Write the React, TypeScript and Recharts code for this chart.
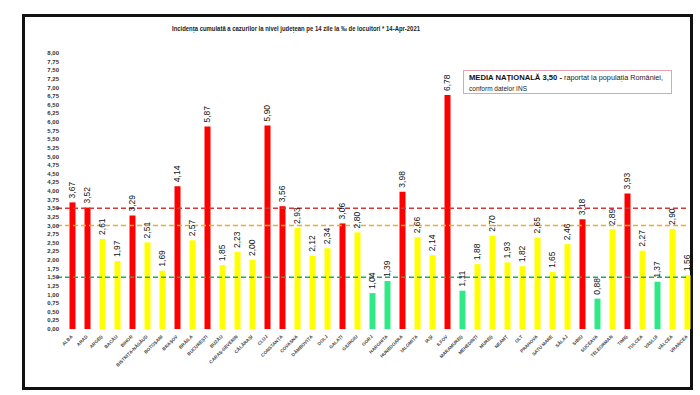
import React from 'react';
import { BarChart, Bar, XAxis, YAxis, Cell, LabelList, ReferenceLine } from 'recharts';

// judete, in ordinea din grafic
const counties = [
  'ALBA', 'ARAD', 'ARGEȘ', 'BACĂU', 'BIHOR', 'BISTRIȚA-NĂSĂUD', 'BOTOȘANI', 'BRAȘOV', 'BRĂILA', 'BUCUREȘTI',
  'BUZĂU', 'CARAȘ-SEVERIN', 'CĂLĂRAȘI', 'CLUJ', 'CONSTANȚA', 'COVASNA', 'DÂMBOVIȚA', 'DOLJ', 'GALAȚI', 'GIURGIU',
  'GORJ', 'HARGHITA', 'HUNEDOARA', 'IALOMIȚA', 'IAȘI', 'ILFOV', 'MARAMUREȘ', 'MEHEDINȚI', 'MUREȘ', 'NEAMȚ',
  'OLT', 'PRAHOVA', 'SATU MARE', 'SĂLAJ', 'SIBIU', 'SUCEAVA', 'TELEORMAN', 'TIMIȘ', 'TULCEA', 'VASLUI',
  'VÂLCEA', 'VRANCEA',
];

// incidenta la 1000 locuitori
const incidence = [
  3.67, 3.52, 2.61, 1.97, 3.29, 2.51, 1.69, 4.14, 2.57, 5.87,
  1.85, 2.23, 2.0, 5.9, 3.56, 2.93, 2.12, 2.34, 3.06, 2.8,
  1.04, 1.39, 3.98, 2.66, 2.14, 6.78, 1.11, 1.88, 2.7, 1.93,
  1.82, 2.65, 1.65, 2.46, 3.18, 0.88, 2.89, 3.93, 2.27, 1.37,
  2.9, 1.56,
];

const yTicks = [
  0, 0.25, 0.5, 0.75, 1, 1.25, 1.5, 1.75, 2, 2.25, 2.5, 2.75, 3, 3.25, 3.5, 3.75,
  4, 4.25, 4.5, 4.75, 5, 5.25, 5.5, 5.75, 6, 6.25, 6.5, 6.75, 7, 7.25, 7.5, 7.75, 8,
];

// praguri (linii punctate)
const thresholds = [
  { value: 3.5, color: '#d93535' },
  { value: 3.0, color: '#f0ad1e' },
  { value: 1.5, color: '#27a85f' },
];

const RED = '#ff0000';
const YELLOW = '#ffff00';
const GREEN = '#2ee986';

const FONT = '"Liberation Sans", Arial, sans-serif';

const fmt = (v: number) => v.toFixed(2).replace('.', ',');
const barColor = (v: number) => (v > 3 ? RED : v < 1.5 ? GREEN : YELLOW);

const data = counties.map((c, i) => ({ county: c, value: incidence[i] }));

const YTick = (props: any) => {
  const { x, y, payload } = props;
  return (
    <text x={x + 2} y={y} dy={2} textAnchor="end" fontSize={6} fontWeight={600} fill="#333" fontFamily={FONT}>
      {fmt(payload.value)}
    </text>
  );
};

const XTick = (props: any) => {
  const { x, y, payload } = props;
  return (
    <text
      x={x + 1}
      y={y + 2}
      textAnchor="end"
      fontSize={4.6}
      fontWeight={700}
      fill="#444"
      fontFamily={FONT}
      transform={`rotate(-45, ${x + 1}, ${y + 2})`}
    >
      {payload.value}
    </text>
  );
};

const ValueLabel = (props: any) => {
  const { x, y, width, value } = props;
  const cx = x + width / 2;
  const cy = y - 4;
  return (
    <text
      x={cx}
      y={cy}
      textAnchor="start"
      dominantBaseline="middle"
      fontSize={8.5}
      fill="#111"
      fontFamily={FONT}
      transform={`rotate(-90, ${cx}, ${cy})`}
    >
      {fmt(value)}
    </text>
  );
};

const DashLine = (color: string) => (props: any) => (
  <line x1={props.x1} y1={props.y1} x2={props.x2 - 6} y2={props.y2} stroke={color} strokeWidth={1.3} strokeDasharray="5 3" />
);

export default function App() {
  return (
    <div style={{ position: 'absolute', left: 0, top: 0, width: 700, height: 395, background: '#fff' }}>
      <div
        style={{
          position: 'absolute',
          left: 22,
          top: 14,
          width: 671,
          height: 376,
          border: '3px solid #111',
          boxSizing: 'border-box',
        }}
      />
      <div style={{ position: 'absolute', left: 0, top: 0 }}>
        <BarChart width={700} height={395} data={data} margin={{ top: 53, right: 5.5, bottom: 36, left: 0 }} barSize={6}>
          <XAxis
            dataKey="county"
            height={30}
            interval={0}
            axisLine={false}
            tickLine={false}
            tickSize={0}
            tickMargin={6}
            padding={{ left: 7.5, right: 0 }}
            tick={<XTick />}
          />
          <YAxis
            width={57}
            domain={[0, 8]}
            ticks={yTicks}
            interval={0}
            axisLine={false}
            tickLine={false}
            tickSize={0}
            tickMargin={0}
            tick={<YTick />}
          />
          <Bar dataKey="value" isAnimationActive={false}>
            {data.map((d) => (
              <Cell key={d.county} fill={barColor(d.value)} />
            ))}
            <LabelList dataKey="value" content={<ValueLabel />} />
          </Bar>
          {thresholds.map((t) => (
            <ReferenceLine key={t.value} y={t.value} stroke={t.color} shape={DashLine(t.color)} />
          ))}
        </BarChart>
      </div>
      <svg width={700} height={395} style={{ position: 'absolute', left: 0, top: 0, pointerEvents: 'none' }}>
        <text x={172} y={31} fontSize={7.5} fontWeight={600} fill="#222" fontFamily={FONT} textLength={248} lengthAdjust="spacingAndGlyphs">
          Incidența cumulată a cazurilor la nivel județean pe 14 zile  la ‰ de locuitori  *  14-Apr-2021
        </text>
        <rect x={463.5} y={70.5} width={208} height={23} fill="#fff" stroke="#e6a3ab" strokeWidth={1} />
        <text x={469} y={80} fontSize={7.5} fontWeight={700} fill="#111" fontFamily={FONT} textLength={93} lengthAdjust="spacingAndGlyphs">
          MEDIA NAȚIONALĂ 3,50 -
        </text>
        <text x={564} y={80} fontSize={7.2} fill="#222" fontFamily={FONT} textLength={99} lengthAdjust="spacingAndGlyphs">
          raportat la populația României,
        </text>
        <text x={469} y={90.5} fontSize={7.2} fill="#222" fontFamily={FONT} textLength={58} lengthAdjust="spacingAndGlyphs">
          conform datelor INS
        </text>
      </svg>
    </div>
  );
}
